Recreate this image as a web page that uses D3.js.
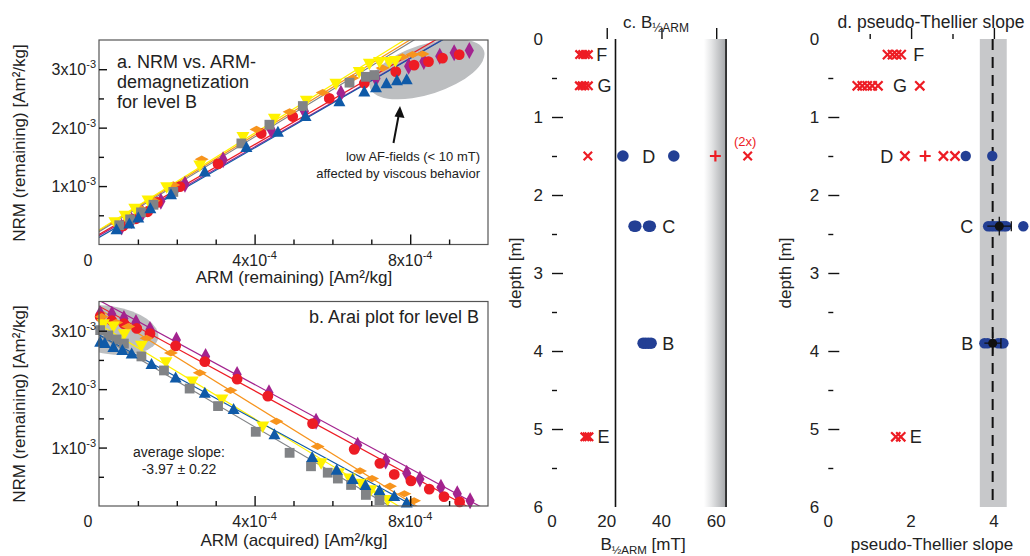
<!DOCTYPE html>
<html>
<head>
<meta charset="utf-8">
<script src="https://cdn.jsdelivr.net/npm/d3@7"></script>
<style>
  body { margin: 0; background: #fff; }
  svg { display: block; font-family: "Liberation Sans", Arial, sans-serif; }
</style>
</head>
<body>
<svg id="fig" width="1030" height="556"></svg>
<script>
(function() {

  // ---- data (ARM in 1e-4 Am²/kg, NRM in 1e-3 Am²/kg) ----
  var specimens = ["purple", "red", "orange", "yellow", "gray", "blue"];

  // panel a: ARM remaining vs NRM remaining
  var aPurple = [[0.58,0.30],[0.84,0.41],[1.12,0.54],[1.59,0.74],[2.21,1.03],[3.19,1.45],[4.43,1.96],[5.28,2.28],[6.22,2.59],[7.12,2.84],[7.96,3.05],[8.35,3.13],[8.76,3.22],[9.13,3.28],[9.52,3.32]];
  var aRed    = [[0.62,0.32],[0.95,0.44],[1.25,0.56],[1.50,0.72],[2.08,0.99],[3.06,1.38],[4.17,1.90],[4.98,2.19],[5.92,2.50],[6.82,2.76],[7.63,2.96],[8.10,3.07],[8.47,3.13],[8.83,3.19],[9.26,3.25]];
  var aOrange = [[0.45,0.36],[0.75,0.48],[1.05,0.62],[1.40,0.75],[1.91,1.02],[2.64,1.46],[4.05,1.97],[4.90,2.27],[5.75,2.60],[6.52,2.85],[7.29,3.02],[7.80,3.21],[8.06,3.25],[8.32,3.26]];
  var aYellow = [[0.41,0.39],[0.67,0.50],[0.92,0.62],[1.26,0.76],[1.74,0.99],[2.59,1.36],[3.70,1.85],[4.51,2.16],[5.33,2.47],[6.09,2.76],[6.69,2.96],[6.95,3.10],[7.21,3.13],[7.46,3.13],[7.62,3.15]];
  var aGray   = [[0.52,0.33],[0.80,0.43],[1.08,0.55],[1.40,0.68],[1.91,0.90],[3.66,1.73],[4.38,2.05],[5.24,2.37],[6.44,2.77],[6.86,2.87],[7.08,2.90]];
  var aBlue   = [[0.45,0.26],[0.78,0.36],[1.01,0.46],[1.32,0.62],[1.85,0.86],[2.72,1.25],[3.79,1.67],[4.60,1.93],[5.31,2.20],[6.18,2.45],[6.82,2.62],[7.12,2.69],[7.39,2.76],[7.66,2.81],[7.91,2.83]];
  // fitted lines [intercept, slope]
  var aFits = [[0.15,0.380],[0.17,0.385],[0.24,0.408],[0.25,0.414],[0.22,0.405],[0.12,0.383]];

  // panel b: Arai plot, ARM acquired vs NRM remaining
  var bPurple = [[0.03,3.29],[0.33,3.28],[0.64,3.21],[0.95,3.14],[1.31,3.02],[1.99,2.84],[2.74,2.56],[3.55,2.25],[4.37,1.94],[5.58,1.45],[6.65,1.04],[7.37,0.77],[7.91,0.56],[8.25,0.46],[8.79,0.32],[9.21,0.21],[9.54,0.09]];
  var bRed    = [[0.03,3.24],[0.33,3.17],[0.64,3.12],[0.97,3.04],[1.31,2.95],[1.97,2.74],[2.72,2.47],[3.55,2.17],[4.34,1.88],[5.49,1.41],[6.56,0.97],[7.22,0.73],[7.59,0.54],[8.02,0.43],[8.49,0.29],[8.87,0.16],[9.27,0.07]];
  var bOrange = [[0.07,3.24],[0.44,3.14],[0.75,3.07],[1.22,2.87],[1.85,2.62],[2.59,2.28],[3.38,1.98],[4.56,1.45],[5.62,1.02],[6.71,0.60],[7.02,0.47],[7.48,0.34],[7.85,0.21],[8.10,0.09]];
  var bYellow = [[0.11,3.12],[0.37,3.08],[0.65,2.95],[1.09,2.75],[1.72,2.47],[2.40,2.14],[3.16,1.83],[4.21,1.37],[5.71,0.74],[6.16,0.57],[6.44,0.48],[6.74,0.39],[6.99,0.28],[7.19,0.19],[7.42,0.11]];
  var bGray   = [[0.03,3.01],[0.24,2.92],[0.45,2.85],[0.64,2.78],[1.09,2.56],[1.67,2.32],[2.33,2.01],[3.06,1.71],[4.03,1.27],[4.90,0.91],[5.45,0.68],[5.88,0.57],[6.14,0.47],[6.48,0.36],[6.86,0.19],[7.21,0.10]];
  var bBlue   = [[0.03,2.81],[0.15,2.79],[0.37,2.72],[0.60,2.67],[0.84,2.61],[1.35,2.43],[1.97,2.20],[2.72,1.94],[3.46,1.66],[4.51,1.23],[5.48,0.84],[6.11,0.62],[6.52,0.46],[6.85,0.36],[7.21,0.27],[7.59,0.17],[7.91,0.06]];
  var bFits = [[3.52,-0.360],[3.42,-0.362],[3.37,-0.413],[3.11,-0.404],[2.92,-0.391],[2.93,-0.362]];

  // panel c: B1/2ARM [mT] vs depth [m]
  var levels = ["F", "G", "D", "C", "B", "E"];
  var levelDepths = [0.2, 0.6, 1.5, 2.4, 3.9, 5.1];
  var cCross = [[10.1,0.2],[11.2,0.2],[12.2,0.2],[13.3,0.2],[10.0,0.6],[11.0,0.6],[12.0,0.6],[13.3,0.6],[13.1,1.5],[71.5,1.5],[12.0,5.1],[12.8,5.1],[13.5,5.1]];
  var cPlus = [[59.7,1.5]];
  var cCircle = [[25.9,1.5],[44.5,1.5],[30.0,2.4],[30.6,2.4],[35.3,2.4],[35.9,2.4],[33.3,3.9],[34.2,3.9],[35.2,3.9],[36.2,3.9]];
  var cLimits = [23.2, 63.6];
  var cFade = [55.5, 63.6];

  // panel d: pseudo-Thellier slope vs depth [m]
  var dCross = [[1.43,0.2],[1.55,0.2],[1.65,0.2],[1.76,0.2],[0.70,0.6],[0.82,0.6],[0.94,0.6],[1.06,0.6],[1.20,0.6],[2.21,0.6],[1.85,1.5],[2.78,1.5],[3.06,1.5],[1.63,5.1],[1.75,5.1]];
  var dPlus = [[2.34,1.5]];
  var dCircle = [[3.32,1.5],[3.96,1.5],[3.86,2.4],[3.93,2.4],[4.00,2.4],[4.08,2.4],[4.16,2.4],[4.24,2.4],[4.30,2.4],[4.71,2.4],[3.77,3.9],[3.85,3.9],[4.10,3.9],[4.18,3.9],[4.23,3.9]];
  var dMeans = [[4.13,2.4,0.29,0.12],[3.97,3.9,0.20,0.14]]; // x, depth, x-error, depth-error
  var dAverage = 3.97;
  var dBand = [3.66, 4.31];

  // ---- styles ----
  var COLORS = { purple: "#a3238e", red: "#ed1c24", orange: "#f7941d", yellow: "#fff200", gray: "#818386", blue: "#0f5aa8" };
  var RED = "#ed1c24", NAVY = "#233f94";

  var aData = [aPurple, aRed, aOrange, aYellow, aGray, aBlue];
  var bData = [bPurple, bRed, bOrange, bYellow, bGray, bBlue];

  var svg = d3.select("#fig");
  var defs = svg.append("defs");

  var xA = d3.scaleLinear().domain([0, 10]).range([99, 488]);
  var yA = d3.scaleLinear().domain([0, 3.5]).range([244.5, 40]);
  var xB = d3.scaleLinear().domain([0, 10]).range([99, 488]);
  var yB = d3.scaleLinear().domain([0, 3.5]).range([506, 301.5]);
  var xC = d3.scaleLinear().domain([0, 76]).range([552, 760]);
  var yC = d3.scaleLinear().domain([0, 6]).range([39, 507]);
  var xD = d3.scaleLinear().domain([0, 5]).range([828.3, 1035.3]);
  var yD = yC;

  function symbolPath(name) {
    if (name === "purple") return "M0,-8.5L4.6,0L0,8.5L-4.6,0Z";
    if (name === "red") return d3.symbol(d3.symbolCircle, 92)();
    if (name === "orange") return "M-7,0L0,-3.6L7,0L0,3.6Z";
    if (name === "yellow") return "M-6.5,-4.5L6.5,-4.5L0,7Z";
    if (name === "gray") return d3.symbol(d3.symbolSquare, 96)();
    return "M0,-6L6,5L-6,5Z";
  }

  function clip(id, x, y) {
    defs.append("clipPath").attr("id", id).append("rect")
      .attr("x", x.range()[0]).attr("y", y.range()[1])
      .attr("width", x.range()[1] - x.range()[0]).attr("height", y.range()[0] - y.range()[1]);
  }
  clip("clipA", xA, yA);
  clip("clipB", xB, yB);

  function frame(x, y) {
    svg.append("rect")
      .attr("x", x.range()[0]).attr("y", y.range()[1])
      .attr("width", x.range()[1] - x.range()[0]).attr("height", y.range()[0] - y.range()[1])
      .attr("fill", "none").attr("stroke", "#555").attr("stroke-width", 1.2);
  }

  function ticksLeft(x, y, values, len) {
    svg.append("g").attr("transform", "translate(" + x.range()[0] + ",0)")
      .call(d3.axisLeft(y).tickValues(values).tickSize(-len).tickFormat(""))
      .call(g => g.select(".domain").remove())
      .selectAll("line").attr("stroke", "#111").attr("stroke-width", 1.4);
  }
  function ticksBottom(x, y, values, len) {
    svg.append("g").attr("transform", "translate(0," + y.range()[0] + ")")
      .call(d3.axisBottom(x).tickValues(values).tickSize(-len).tickFormat(""))
      .call(g => g.select(".domain").remove())
      .selectAll("line").attr("stroke", "#111").attr("stroke-width", 1.4);
  }

  function sciLabel(px, py, mant, exp, anchor) {
    var t = svg.append("text").attr("x", px).attr("y", py)
      .attr("text-anchor", anchor).attr("font-size", 16).attr("fill", "#222");
    t.append("tspan").text(mant + "x10");
    t.append("tspan").attr("dy", -7).attr("font-size", 11).text(exp);
  }

  function text(px, py, str, size, anchor, color) {
    return svg.append("text").attr("x", px).attr("y", py)
      .attr("text-anchor", anchor || "start").attr("font-size", size)
      .attr("fill", color || "#222").text(str);
  }

  // ---- panels a and b ----
  function scatterPanel(x, y, data, fits, clipId, ellipse) {
    var g = svg.append("g").attr("clip-path", "url(#" + clipId + ")");
    g.append("ellipse")
      .attr("transform", "translate(" + x(ellipse[0]) + "," + y(ellipse[1]) + ") rotate(" + ellipse[4] + ")")
      .attr("rx", ellipse[2]).attr("ry", ellipse[3]).attr("fill", "#bcbec0");

    var line = d3.line().x(d => x(d[0])).y(d => y(d[1]));
    g.selectAll("path.fit").data(fits).enter().append("path")
      .attr("class", "fit")
      .attr("d", f => line([[0, f[0]], [10, f[0] + 10 * f[1]]]))
      .attr("fill", "none")
      .attr("stroke", (f, i) => COLORS[specimens[i]])
      .attr("stroke-width", 1.2);

    data.forEach(function(series, i) {
      var name = specimens[i];
      svg.append("g").selectAll("path").data(series).enter().append("path")
        .attr("transform", d => "translate(" + x(d[0]) + "," + y(d[1]) + ")")
        .attr("d", symbolPath(name))
        .attr("fill", COLORS[name]);
    });

    frame(x, y);
    ticksLeft(x, y, [1, 2, 3], 8);
    ticksLeft(x, y, [0.5, 1.5, 2.5], 5);
    ticksBottom(x, y, [4, 8], 10);
    ticksBottom(x, y, [1, 2, 3, 5, 6, 7, 9], 5);

    [1, 2, 3].forEach(v => sciLabel(96, y(v) + 6, v, "-3", "end"));
    [4, 8].forEach(v => sciLabel(x(v), y.range()[0] + 21, v, "-4", "middle"));
    text(88, y.range()[0] + 21, "0", 16, "middle");
  }

  scatterPanel(xA, yA, aData, aFits, "clipA", [8.43, 3.0, 60, 25, -18]);
  scatterPanel(xB, yB, bData, bFits, "clipB", [0.28, 3.01, 49, 24, 9]);

  // panel a texts
  text(117, 68, "a. NRM vs. ARM-", 18);
  text(117, 88, "demagnetization", 18);
  text(117, 108, "for level B", 18);
  text(480, 161, "low AF-fields (< 10 mT)", 13, "end");
  text(480, 178, "affected by viscous behavior", 13, "end");
  svg.append("line").attr("x1", 393.5).attr("y1", 143).attr("x2", 398.5).attr("y2", 116)
    .attr("stroke", "#111").attr("stroke-width", 2);
  svg.append("path").attr("d", "M400,106L404.5,118L394.5,116.5Z").attr("fill", "#111");
  text(294, 283, "ARM (remaining) [Am²/kg]", 17, "middle");
  text(0, 0, "NRM (remaining) [Am²/kg]", 17, "middle")
    .attr("transform", "translate(25,143) rotate(-90)");

  // panel b texts
  text(479, 323, "b. Arai plot for level B", 18, "end");
  text(179, 457, "average slope:", 14, "middle");
  text(179, 474, "-3.97 ± 0.22", 14, "middle");
  text(294, 546, "ARM (acquired) [Am²/kg]", 17, "middle");
  text(0, 0, "NRM (remaining) [Am²/kg]", 17, "middle")
    .attr("transform", "translate(25,404) rotate(-90)");

  // ---- markers for depth panels ----
  function crosses(x, y, data, r) {
    svg.append("g").selectAll("path").data(data).enter().append("path")
      .attr("d", d => "M" + (x(d[0]) - r) + "," + (y(d[1]) - r) + "L" + (x(d[0]) + r) + "," + (y(d[1]) + r)
                    + "M" + (x(d[0]) - r) + "," + (y(d[1]) + r) + "L" + (x(d[0]) + r) + "," + (y(d[1]) - r))
      .attr("stroke", RED).attr("stroke-width", 2.2).attr("fill", "none");
  }
  function pluses(x, y, data, r) {
    svg.append("g").selectAll("path").data(data).enter().append("path")
      .attr("d", d => "M" + (x(d[0]) - r) + "," + y(d[1]) + "H" + (x(d[0]) + r)
                    + "M" + x(d[0]) + "," + (y(d[1]) - r) + "V" + (y(d[1]) + r))
      .attr("stroke", RED).attr("stroke-width", 2.2).attr("fill", "none");
  }
  function circles(x, y, data, r) {
    svg.append("g").selectAll("circle").data(data).enter().append("circle")
      .attr("cx", d => x(d[0])).attr("cy", d => y(d[1])).attr("r", r).attr("fill", NAVY);
  }
  function depthAxes(x, y, xMajor, xMinor) {
    ticksLeft(x, y, [1, 2, 3, 4, 5], 11);
    ticksLeft(x, y, [0.5, 1.5, 2.5, 3.5, 4.5, 5.5], 5);
    ticksBottom(x, y, xMajor, 11);
    if (xMinor.length) ticksBottom(x, y, xMinor, 5);
    d3.range(0, 7).forEach(v => text(x.range()[0] - 9, y(v) + 6, String(v), 17, "end"));
    [0].concat(xMajor).forEach(v => text(x(v), 527, String(v), 17, "middle"));
  }

  // ---- panel c ----
  var grad = defs.append("linearGradient").attr("id", "fade").attr("x1", 0).attr("x2", 1).attr("y1", 0).attr("y2", 0);
  grad.append("stop").attr("offset", 0).attr("stop-color", "#ffffff");
  grad.append("stop").attr("offset", 0.35).attr("stop-color", "#e4e5e6");
  grad.append("stop").attr("offset", 1).attr("stop-color", "#a4a6a9");
  svg.append("rect").attr("x", xC(cFade[0])).attr("y", yC(0))
    .attr("width", xC(cFade[1]) - xC(cFade[0])).attr("height", yC(6) - yC(0)).attr("fill", "url(#fade)");
  svg.append("g").selectAll("line").data(cLimits).enter().append("line")
    .attr("x1", d => xC(d)).attr("x2", d => xC(d)).attr("y1", yC(0)).attr("y2", yC(6))
    .attr("stroke", "#111").attr("stroke-width", 1.6);
  frame(xC, yC);
  crosses(xC, yC, cCross, 4.2);
  pluses(xC, yC, cPlus, 5.5);
  circles(xC, yC, cCircle, 5.8);
  depthAxes(xC, yC, [20, 40, 60], []);

  var cLabelX = [16.2, 16.6, 33.0, 40.3, 40.3, 16.6];
  levels.forEach((l, i) => text(xC(cLabelX[i]), yC(levelDepths[i]) + 6.5, l, 18));
  text(xC(70.6), yC(1.32) + 4, "(2x)", 13, "middle", RED);

  var tc = svg.append("text").attr("x", 656).attr("y", 28).attr("text-anchor", "middle").attr("font-size", 17).attr("fill", "#222");
  tc.append("tspan").text("c. B");
  tc.append("tspan").attr("font-size", 12).attr("dy", 4).text("½ARM");
  var lc = svg.append("text").attr("x", 643).attr("y", 550).attr("text-anchor", "middle").attr("font-size", 17).attr("fill", "#222");
  lc.append("tspan").text("B");
  lc.append("tspan").attr("font-size", 11.5).attr("dy", 4).text("½ARM");
  lc.append("tspan").attr("dy", -4).text(" [mT]");
  text(0, 0, "depth [m]", 17, "middle").attr("transform", "translate(521,273) rotate(-90)");

  // ---- panel d ----
  svg.append("rect").attr("x", xD(dBand[0])).attr("y", yD(0))
    .attr("width", xD(dBand[1]) - xD(dBand[0])).attr("height", yD(6) - yD(0)).attr("fill", "#c7c8ca");
  svg.append("line").attr("x1", xD(dAverage)).attr("x2", xD(dAverage)).attr("y1", yD(0)).attr("y2", yD(6))
    .attr("stroke", "#111").attr("stroke-width", 2).attr("stroke-dasharray", "11,7");
  frame(xD, yD);
  crosses(xD, yD, dCross, 4.6);
  pluses(xD, yD, dPlus, 5.5);
  circles(xD, yD, dCircle, 5.2);

  var means = svg.append("g").selectAll("g").data(dMeans).enter().append("g");
  means.append("path")
    .attr("d", d => "M" + xD(d[0] - d[2]) + "," + yD(d[1]) + "H" + xD(d[0] + d[2])
                  + "M" + xD(d[0] + d[2]) + "," + (yD(d[1]) - 5) + "V" + (yD(d[1]) + 5)
                  + "M" + xD(d[0]) + "," + yD(d[1] - d[3]) + "V" + yD(d[1] + d[3]))
    .attr("stroke", "#111").attr("stroke-width", 1.3).attr("fill", "none");
  means.append("circle").attr("cx", d => xD(d[0])).attr("cy", d => yD(d[1])).attr("r", 4.5).attr("fill", "#111");

  depthAxes(xD, yD, [2, 4], [1, 3]);
  var dLabels = [[2.05, "start"], [1.56, "start"], [1.57, "end"], [3.50, "end"], [3.50, "end"], [1.97, "start"]];
  levels.forEach((l, i) => text(xD(dLabels[i][0]), yD(levelDepths[i]) + 6.5, l, 18, dLabels[i][1]));

  text(931, 28, "d. pseudo-Thellier slope", 17.5, "middle");
  text(932, 550, "pseudo-Thellier slope", 17, "middle");
  text(0, 0, "depth [m]", 17, "middle").attr("transform", "translate(791,273) rotate(-90)");

})();
</script>
</body>
</html>
